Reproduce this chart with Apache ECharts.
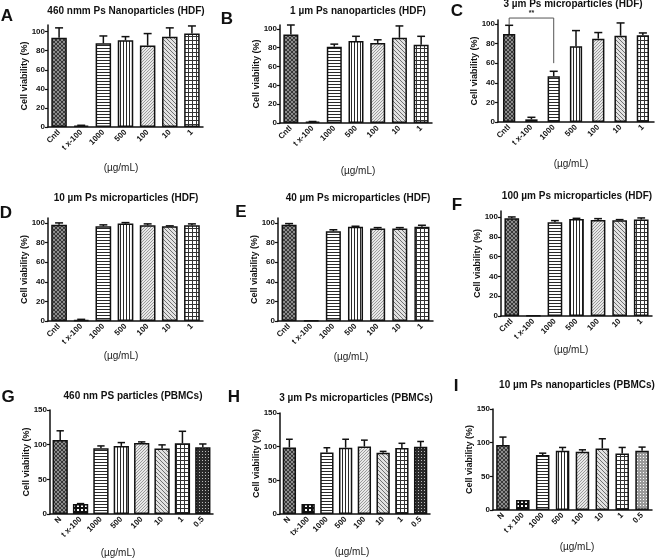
<!DOCTYPE html>
<html><head><meta charset="utf-8">
<script src="https://cdn.jsdelivr.net/npm/echarts@6/dist/echarts.min.js"></script>
<style>html,body{margin:0;padding:0;background:#fff}#c{width:656px;height:558px}</style>
</head><body><div id="c"></div>
<script>
// ---- data ----
const hdfCategories = ['Cntl', 't x-100', '1000', '500', '100', '10', '1'];
const gCategories = ['N', 't x-100', '1000', '500', '100', '10', '1', '0.5'];
const hCategories = ['N', 'tx-100', '1000', '500', '100', '10', '1', '0.5'];
const iCategories = ['N', 't x 100', '1000', '500', '100', '10', '1', '0.5'];

const hdfTicks = [0, 20, 40, 60, 80, 100];
const pbmcTicks = [0, 50, 100, 150];

const aMeans = [93.7, 1.4, 87.8, 91.0, 85.4, 94.8, 98.0];
const aErrors = [10.3, 0.4, 7.7, 3.8, 12.6, 9.2, 8.0];
const bMeans = [94.0, 1.4, 81.0, 87.0, 85.0, 90.4, 83.0];
const bErrors = [10.0, 0.2, 2.7, 5.0, 3.3, 12.6, 9.0];
const cMeans = [89.8, 2.7, 46.6, 77.2, 85.0, 88.0, 88.4];
const cErrors = [8.8, 2.1, 5.1, 16.0, 6.2, 13.0, 2.4];
const dMeans = [98.0, 1.0, 96.6, 99.3, 97.6, 96.6, 97.6];
const dErrors = [2.0, 0.7, 1.4, 1.0, 1.4, 0.4, 1.4];
const eMeans = [98.0, 0.3, 91.5, 96.0, 94.2, 94.2, 96.0];
const eErrors = [1.3, 0, 1.5, 0.6, 1.0, 1.0, 1.6];
const fMeans = [98.6, 0.3, 94.6, 98.0, 97.0, 96.6, 97.3];
const fErrors = [1.4, 0, 1.7, 0.6, 1.3, 0.7, 1.7];
const gMeans = [106.8, 14.4, 94.9, 98.2, 102.5, 94.4, 102.0, 96.3];
const gErrors = [13.2, 0.6, 3.3, 4.8, 1.5, 5.3, 17.3, 4.7];
const hMeans = [98.9, 14.8, 91.5, 98.4, 100.3, 91.0, 97.9, 99.8];
const hErrors = [12.1, 0, 6.9, 12.6, 9.4, 2.0, 7.1, 7.9];
const iMeans = [96.4, 14.9, 81.5, 88.0, 86.4, 91.4, 84.0, 88.0];
const iErrors = [11.9, 0, 2.9, 4.9, 3.0, 14.4, 8.9, 5.4];

// significance bracket in panel C: [fromCategory, toCategory, topValue, leftLegEnd, rightLegEnd]
const cBracket = [[0, 2, 106, 99, 60]];
const cBracketLabel = '**';

const panelTitles = ['460 nmm Ps Nanoparticles (HDF)', '1 \u00b5m Ps nanoparticles (HDF)', '3 \u00b5m Ps microparticles (HDF)',
  '10 \u00b5m Ps microparticles (HDF)', '40 \u00b5m Ps microparticles (HDF)', '100 \u00b5m Ps microparticles (HDF)',
  '460 nm PS particles (PBMCs)', '3 \u00b5m Ps microparticles (PBMCs)', '10 \u00b5m Ps nanoparticles (PBMCs)'];
const panelLetters = ['A', 'B', 'C', 'D', 'E', 'F', 'G', 'H', 'I'];
const yAxisTitle = 'Cell viability (%)';
const xAxisTitle = '(\u00b5g/mL)';

// ---- patterns ----
function pat(w, h, bg, draw) {
  const c = document.createElement('canvas'); c.width = w; c.height = h;
  const g = c.getContext('2d'); g.fillStyle = bg; g.fillRect(0, 0, w, h); draw(g);
  return { image: c, repeat: 'repeat' };
}
const P = {
  cross: pat(4, 4, '#8c8c8c', g => { g.fillStyle = '#383838'; [[0,0],[1,1],[2,2],[3,3],[3,0],[2,1],[1,2],[0,3]].forEach(([x,y]) => g.fillRect(x, y, 1, 1)); }),
  black: '#151515',
  hl: pat(3, 3, '#ffffff', g => { g.fillStyle = '#2a2a2a'; g.fillRect(0, 0, 3, 1); }),
  vl: pat(3, 3, '#ffffff', g => { g.fillStyle = '#2a2a2a'; g.fillRect(0, 0, 1, 3); }),
  d1: pat(3, 3, '#e8e8e8', g => { g.fillStyle = '#9a9a9a'; g.fillRect(0, 2, 1, 1); g.fillRect(1, 1, 1, 1); g.fillRect(2, 0, 1, 1); }),
  d2: pat(4, 4, '#e2e2e2', g => { g.fillStyle = '#707070'; for (let i = 0; i < 4; i++) g.fillRect(i, i, 1, 1); }),
  grid: pat(4, 4, '#ffffff', g => { g.fillStyle = '#333333'; g.fillRect(0, 0, 4, 1); g.fillRect(0, 0, 1, 4); }),
  dots: pat(4, 4, '#111111', g => { g.fillStyle = '#ffffff'; g.fillRect(1, 1, 2, 2); }),
  ddots: pat(3, 3, '#2a2a2a', g => { g.fillStyle = '#bbbbbb'; g.fillRect(1, 1, 1, 1); }),
  ldots: pat(3, 3, '#9a9a9a', g => { g.fillStyle = '#ffffff'; g.fillRect(1, 1, 1, 1); })
};
const hdfFills = [P.cross, P.black, P.hl, P.vl, P.d1, P.d2, P.grid];
const gFills = [P.cross, P.dots, P.hl, P.vl, P.d1, P.d2, P.grid, P.ddots];
const iFills = [P.cross, P.dots, P.hl, P.vl, P.d1, P.d2, P.grid, P.ldots];

// ---- layout ----
const FONT = 'Liberation Sans, Arial, sans-serif';
const panels = [
  { cats: hdfCategories, means: aMeans, errs: aErrors, fills: hdfFills, ticks: hdfTicks, max: 107, g: [48, 25, 155, 102], bw: '70%', t: [126, 11], l: [7, 16], x: [121, 168] },
  { cats: hdfCategories, means: bMeans, errs: bErrors, fills: hdfFills, ticks: hdfTicks, max: 104, g: [280, 25, 152, 98], bw: '69%', t: [358, 11], l: [227, 19], x: [358, 171] },
  { cats: hdfCategories, means: cMeans, errs: cErrors, fills: hdfFills, ticks: hdfTicks, max: 104, g: [498, 20, 156, 102], bw: '55%', t: [573, 4], l: [457, 11], x: [571, 164] },
  { cats: hdfCategories, means: dMeans, errs: dErrors, fills: hdfFills, ticks: hdfTicks, max: 105, g: [48, 218, 155, 103], bw: '71%', t: [126, 198], l: [6, 213], x: [121, 356] },
  { cats: hdfCategories, means: eMeans, errs: eErrors, fills: hdfFills, ticks: hdfTicks, max: 105, g: [278, 218, 155, 103], bw: '68%', t: [358, 198], l: [241, 212], x: [351, 357] },
  { cats: hdfCategories, means: fMeans, errs: fErrors, fills: hdfFills, ticks: hdfTicks, max: 106, g: [501, 211, 151, 105], bw: '68%', t: [577, 196], l: [457, 205], x: [571, 350] },
  { cats: gCategories, means: gMeans, errs: gErrors, fills: gFills, ticks: pbmcTicks, max: 150, g: [50, 410, 163, 104], bw: '75%', t: [133, 396], l: [8, 397], x: [118, 553] },
  { cats: hCategories, means: hMeans, errs: hErrors, fills: gFills, ticks: pbmcTicks, max: 150, g: [280, 413, 150, 101], bw: '71%', t: [356, 398], l: [234, 397], x: [352, 552] },
  { cats: iCategories, means: iMeans, errs: iErrors, fills: iFills, ticks: pbmcTicks, max: 150, g: [493, 409, 159, 101], bw: '68%', t: [577, 385], l: [456, 386], x: [577, 547] }
];

function errRender(params, api) {
  const e = api.value(2);
  if (!(e > 0)) return null;
  const x = api.value(0), m = api.value(1);
  const p0 = api.coord([x, m]), p1 = api.coord([x, m + e]);
  const cap = api.size([1, 0])[0] * 0.36;
  const st = { stroke: '#111', lineWidth: 1.5 };
  return { type: 'group', children: [
    { type: 'line', shape: { x1: p0[0], y1: p0[1], x2: p1[0], y2: p1[1] }, style: st },
    { type: 'line', shape: { x1: p1[0] - cap / 2, y1: p1[1], x2: p1[0] + cap / 2, y2: p1[1] }, style: st }
  ] };
}
function bracketRender(params, api) {
  const a = api.value(0), b = api.value(1), top = api.value(2), yl = api.value(3), yr = api.value(4);
  const pa = api.coord([a, top]), pb = api.coord([b, top]);
  const la = api.coord([a, yl]), rb = api.coord([b, yr]);
  return { type: 'group', children: [
    { type: 'polyline', shape: { points: [[la[0], la[1]], [pa[0], pa[1]], [pb[0], pb[1]], [rb[0], rb[1]]] }, style: { stroke: '#555', lineWidth: 1, fill: null } },
    { type: 'text', x: (pa[0] + pb[0]) / 2, y: pa[1] - 1, style: { text: cBracketLabel, font: 'bold 7px ' + FONT, fill: '#222', align: 'center', verticalAlign: 'bottom' } }
  ] };
}

const grid = [], xAxis = [], yAxis = [], series = [], graphic = [];
panels.forEach((p, i) => {
  grid.push({ left: p.g[0], top: p.g[1], width: p.g[2], height: p.g[3], containLabel: false, outerBoundsMode: 'none' });
  xAxis.push({
    type: 'category', gridIndex: i, data: p.cats,
    axisLine: { lineStyle: { color: '#111', width: 1.5 } },
    axisTick: { alignWithLabel: true, length: 3, lineStyle: { color: '#111', width: 1.2 } },
    axisLabel: { rotate: 45, interval: 0, fontSize: 8, fontWeight: 'bold', color: '#111', margin: 4, fontFamily: FONT },
    splitLine: { show: false }
  });
  yAxis.push({
    type: 'value', gridIndex: i, min: 0, max: p.max,
    axisLine: { show: true, lineStyle: { color: '#111', width: 1.5 } },
    axisTick: { show: true, length: 3, customValues: p.ticks, lineStyle: { color: '#111', width: 1.2 } },
    axisLabel: { customValues: p.ticks, fontSize: 8, fontWeight: 'bold', color: '#111', margin: 3, fontFamily: FONT },
    splitLine: { show: false },
    name: yAxisTitle, nameLocation: 'middle', nameGap: 19, nameMoveOverlap: false,
    nameTextStyle: { fontSize: 9, fontWeight: 'bold', color: '#111', fontFamily: FONT }
  });
  series.push({
    type: 'bar', xAxisIndex: i, yAxisIndex: i, barWidth: p.bw, silent: true,
    data: p.means.map((v, k) => ({ value: v, itemStyle: { color: p.fills[k] } })),
    itemStyle: { borderColor: '#111', borderWidth: 1.5 }
  });
  series.push({
    type: 'custom', xAxisIndex: i, yAxisIndex: i, z: 5, silent: true, renderItem: errRender,
    data: p.means.map((v, k) => [k, v, p.errs[k]])
  });
  graphic.push({ type: 'text', x: p.t[0], y: p.t[1], style: { text: panelTitles[i], font: 'bold 10px ' + FONT, fill: '#111', align: 'center', verticalAlign: 'middle' } });
  graphic.push({ type: 'text', x: p.l[0], y: p.l[1], style: { text: panelLetters[i], font: 'bold 17px ' + FONT, fill: '#111', align: 'center', verticalAlign: 'middle' } });
  graphic.push({ type: 'text', x: p.x[0], y: p.x[1], style: { text: xAxisTitle, font: '10px ' + FONT, fill: '#222', align: 'center', verticalAlign: 'middle' } });
});
series.push({ type: 'custom', xAxisIndex: 2, yAxisIndex: 2, z: 6, silent: true, clip: false, renderItem: bracketRender, data: cBracket });

const chart = echarts.init(document.getElementById('c'), null, { renderer: 'canvas' });
chart.setOption({ backgroundColor: '#fff', animation: false, grid, xAxis, yAxis, series, graphic });
</script></body></html>
